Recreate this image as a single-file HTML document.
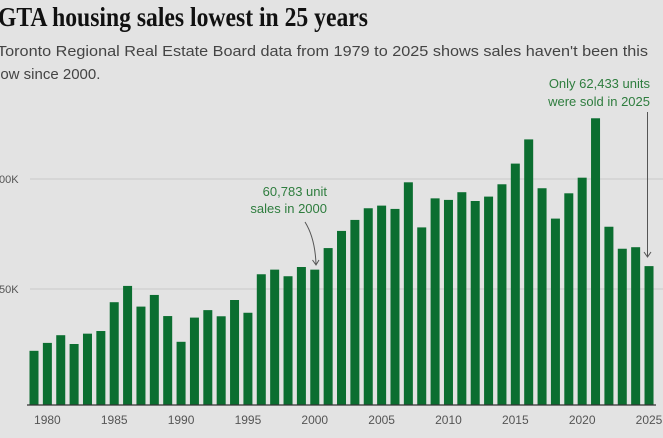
<!DOCTYPE html>
<html><head><meta charset="utf-8"><style>
html,body{margin:0;padding:0;background:#e3e3e3;}
svg{display:block;}
</style></head><body>
<svg id="chart" width="663" height="438" viewBox="0 0 663 438" xmlns="http://www.w3.org/2000/svg">
<rect width="663" height="438" fill="#e3e3e3"/>
<text x="-2" y="26" font-family="'Liberation Serif',serif" font-weight="bold" font-size="27" fill="#111" textLength="370" lengthAdjust="spacingAndGlyphs">GTA housing sales lowest in 25 years</text>
<text x="-3" y="56" font-family="'Liberation Sans',sans-serif" font-size="15" fill="#444" textLength="651" lengthAdjust="spacingAndGlyphs">Toronto Regional Real Estate Board data from 1979 to 2025 shows sales haven't been this</text>
<text x="-3" y="79" font-family="'Liberation Sans',sans-serif" font-size="15" fill="#444">low since 2000.</text>
<g id="grid"></g>
<g id="bars"></g>
<g id="xaxis"></g>
<text x="650" y="88" text-anchor="end" font-family="'Liberation Sans',sans-serif" font-size="13" fill="#2e7d3e">Only 62,433 units</text>
<text x="650" y="106" text-anchor="end" font-family="'Liberation Sans',sans-serif" font-size="13" fill="#2e7d3e">were sold in 2025</text>
<line x1="647.5" y1="112" x2="647.5" y2="256" stroke="#555" stroke-width="1"/>
<path d="M644,252 L647.5,257 L651,252" fill="none" stroke="#555" stroke-width="1"/>
<text x="327" y="196" text-anchor="end" font-family="'Liberation Sans',sans-serif" font-size="13" fill="#2e7d3e">60,783 unit</text>
<text x="327" y="213" text-anchor="end" font-family="'Liberation Sans',sans-serif" font-size="13" fill="#2e7d3e">sales in 2000</text>
<path d="M305,222 Q315,238 316,264 M312.5,260 L316,265 L319,260" fill="none" stroke="#555" stroke-width="1"/>
</svg>
<script>
const years = [];
for (let y = 1979; y <= 2025; y++) years.push(y);
const sales = [21.9,25.5,29,25,29.7,30.9,44,51.4,42,47.3,37.7,26,37,40.4,37.6,45,39.2,56.7,58.8,55.8,60,58.8,68.6,76.4,81.4,86.7,87.9,86.4,98.5,78,91.2,90.5,94,90,92,97.6,107,118,95.8,82,93.5,100.6,127.6,78.3,68.3,69,60.4];
const yTicks = [50,100];
const yTickLabels = ["50K","00K"];
const xTicks = [1980,1985,1990,1995,2000,2005,2010,2015,2020,2025];
const NS = "http://www.w3.org/2000/svg";
function xScale(yr){ return 34 + (yr - 1979) * 13.37; }
function yScale(v){ return 399 - v * 2.2; }
const grid = document.getElementById('grid');
yTicks.forEach((t,i)=>{
  const l = document.createElementNS(NS,'line');
  
  
  l.setAttribute('x1',30); l.setAttribute('x2',663);
  l.setAttribute('y1',yScale(t)); l.setAttribute('y2',yScale(t));
  l.setAttribute('stroke','#cacaca'); l.setAttribute('stroke-width','1');
  grid.appendChild(l);
  const tx = document.createElementNS(NS,'text');
  
  
  tx.setAttribute('x',-1); tx.setAttribute('y',yScale(t)+4);
  tx.setAttribute('font-family',"'Liberation Sans',sans-serif");
  tx.setAttribute('font-size','11'); tx.setAttribute('fill','#555');
  tx.textContent = yTickLabels[i];
  grid.appendChild(tx);
});
const bars = document.getElementById('bars');
years.forEach((yr,i)=>{
  const r = document.createElementNS(NS,'rect');
  
  
  const top = yScale(sales[i]);
  r.setAttribute('x',xScale(yr)-4.5); r.setAttribute('width',9);
  r.setAttribute('y',top); r.setAttribute('height',405-top);
  r.setAttribute('fill','#0b6e30');
  bars.appendChild(r);
});
const xa = document.getElementById('xaxis');
const base = document.createElementNS(NS,'line');


base.setAttribute('x1',27); base.setAttribute('x2',656);
base.setAttribute('y1',405); base.setAttribute('y2',405);
base.setAttribute('stroke','#333'); base.setAttribute('stroke-width','1.2');
xa.appendChild(base);
xTicks.forEach(t=>{
  const tx = document.createElementNS(NS,'text');
  
  
  tx.setAttribute('x',xScale(t)); tx.setAttribute('y',424);
  tx.setAttribute('text-anchor','middle');
  tx.setAttribute('font-family',"'Liberation Sans',sans-serif");
  tx.setAttribute('font-size','12'); tx.setAttribute('fill','#555');
  tx.textContent = t;
  xa.appendChild(tx);
});
</script>
</body></html>
